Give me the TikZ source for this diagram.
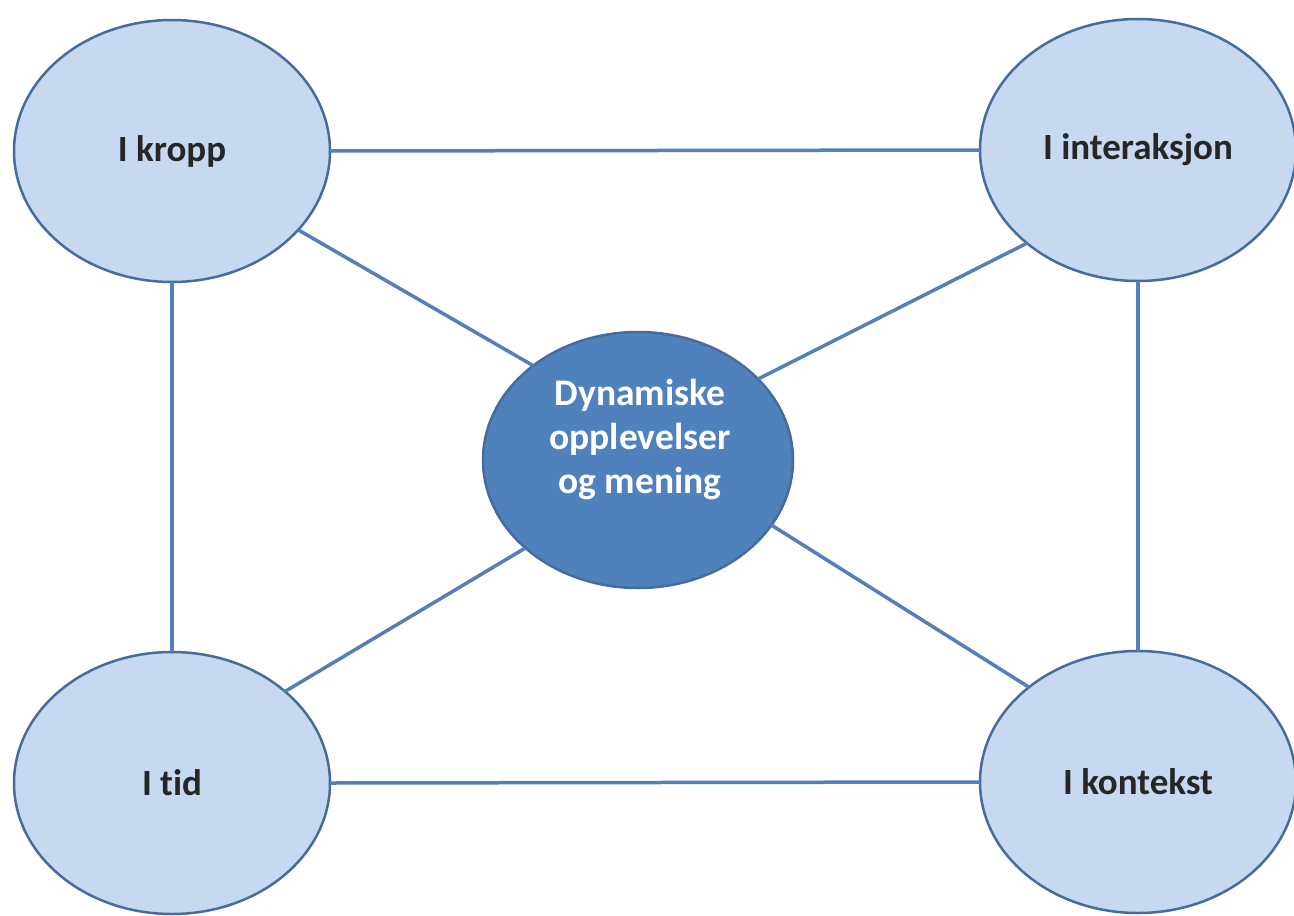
\documentclass[tikz,border=0pt]{standalone}
\usepackage{fontspec}
\setmainfont[RawFeature=-liga]{Carlito}
\usetikzlibrary{shapes.geometric}
\definecolor{lightfill}{RGB}{198,217,241}
\definecolor{darkfill}{RGB}{79,129,189}
\definecolor{edgeblue}{RGB}{70,108,158}
\definecolor{linkblue}{RGB}{84,128,186}
\tikzset{
  outer/.style={ellipse, draw=edgeblue, fill=lightfill, line width=2.5pt,
    inner sep=0pt, outer sep=0pt, minimum width=316pt, minimum height=262pt,
    font=\fontsize{37}{44}\selectfont\bfseries, text=black!85},
  inner/.style={ellipse, draw=edgeblue, fill=darkfill, line width=2.5pt,
    inner sep=0pt, outer sep=0pt, minimum width=310pt, minimum height=256pt},
  innertext/.style={align=center, text=white, inner sep=0pt,
    font=\fontsize{37.5}{44}\selectfont\bfseries},
  link/.style={draw=linkblue, line width=3.5pt}
}
\begin{document}
\begin{tikzpicture}[x=1pt,y=-1pt]
\useasboundingbox[fill=white] (0,0) rectangle (1294,916);
\node[outer] (tl) at (172,151) {I kropp};
\node[outer] (tr) at (1138,150) {I interaksjon};
\node[outer] (bl) at (172,783) {I tid};
\node[outer] (br) at (1138,782) {I kontekst};
\node[inner] (c) at (638,460) {};
\node[innertext] (ct) at (640,440) {Dynamiske\\opplevelser\\og mening};
\draw[link] (tl.east) -- (tr.west);
\draw[link] (bl.east) -- (br.west);
\draw[link] (tl.south) -- (bl.north);
\draw[link] (tr.south) -- (br.north);
\draw[link] (tl.-32.3) -- (c.138.4);
\draw[link] (tr.220.6) -- (c.34);
\draw[link] (bl.39.9) -- (c.218);
\draw[link] (br.139.4) -- (c.-26.9);
\end{tikzpicture}
\end{document}
